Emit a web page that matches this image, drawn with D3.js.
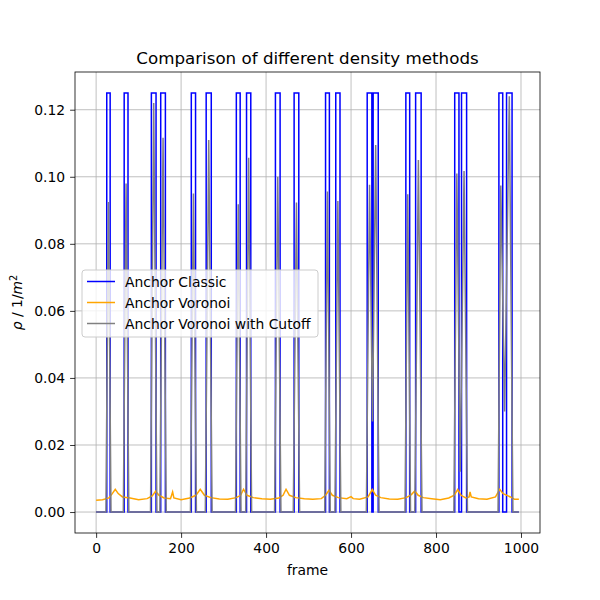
<!DOCTYPE html>
<html><head><meta charset="utf-8">
<script src="https://cdn.jsdelivr.net/npm/d3@7"></script>
<style>body{margin:0;background:#fff}text{font-family:"DejaVu Sans",sans-serif}</style>
</head><body><div id="chart"></div>
<script>
// pulse windows of the classic anchor (frames)
var pulseStart = [25, 66, 130, 152, 224, 259, 330, 354, 422, 466, 540, 564, 638, 652, 729, 752, 844, 860, 948, 966];
var pulseEnd   = [33, 75, 141, 163, 234, 271, 339, 364, 433, 477, 549, 574, 649, 664, 738, 765, 854, 872, 957, 979];
var classicLevel = 0.125;
// cutoff peaks per pulse
var cutoffPeak = [0.0925, 0.098, 0.122, 0.1116, 0.095, 0.111, 0.0918, 0.1057, 0.100, 0.0923,
                  0.0956, 0.0928, 0.0976, 0.1095, 0.0948, 0.105, 0.101, 0.1017, 0.0974, 0.124];
// voronoi density, [frame, value]
var voronoi = [[0,0.0035],[15,0.0037],[30,0.0042],[38,0.0055],[45,0.0068],[52,0.0055],[62,0.0045],[80,0.0042],[100,0.0037],[120,0.004],[132,0.0048],[140,0.0062],[148,0.005],[160,0.0042],[175,0.004],[180,0.006],[183,0.0042],[200,0.0037],[220,0.0042],[235,0.005],[245,0.0068],[255,0.005],[270,0.0043],[290,0.0039],[310,0.0038],[330,0.0043],[340,0.005],[347,0.0068],[355,0.005],[370,0.0043],[390,0.0040],[410,0.0038],[430,0.0042],[440,0.005],[447,0.0068],[455,0.005],[470,0.0043],[490,0.004],[510,0.0038],[530,0.004],[540,0.005],[548,0.0065],[556,0.005],[570,0.0043],[590,0.004],[600,0.0046],[605,0.004],[620,0.0038],[640,0.0045],[650,0.0067],[658,0.005],[670,0.0043],[690,0.0039],[710,0.0038],[730,0.0043],[742,0.0052],[750,0.0063],[758,0.005],[770,0.0043],[790,0.004],[810,0.0037],[830,0.0042],[843,0.005],[851,0.0067],[859,0.005],[870,0.0042],[878,0.0045],[880,0.006],[883,0.0045],[900,0.004],[920,0.0038],[940,0.0045],[950,0.0068],[958,0.0055],[975,0.0045],[985,0.0038],[995,0.0038]];

var W = 600, H = 600, m = {left: 75, right: 60, top: 72, bottom: 67};
var svg = d3.select("#chart").append("svg").attr("width", W).attr("height", H);
var x = d3.scaleLinear().domain([-49.75, 1044.75]).range([m.left, W - m.right]);
var y = d3.scaleLinear().domain([-0.00625, 0.13125]).range([H - m.bottom, m.top]);

// grid
svg.append("g").selectAll("line").data(x.ticks(5)).enter().append("line")
  .attr("x1", d => x(d)).attr("x2", d => x(d)).attr("y1", m.top).attr("y2", H - m.bottom)
  .attr("stroke", "#b0b0b0").attr("stroke-width", 0.8);
var yTicks = d3.range(0, 0.1201, 0.02);
svg.append("g").selectAll("line").data(yTicks).enter().append("line")
  .attr("x1", m.left).attr("x2", W - m.right).attr("y1", d => y(d)).attr("y2", d => y(d))
  .attr("stroke", "#b0b0b0").attr("stroke-width", 0.8);

// build series
var classic = [[0, 0]];
var cutoff = [[0, 0]];
pulseStart.forEach(function(s, i){
  var e = pulseEnd[i];
  classic.push([s, 0], [s, classicLevel], [e, classicLevel], [e, 0]);
  var next = pulseStart[i + 1], prevEnd = pulseEnd[i - 1];
  if (!(prevEnd && s - prevEnd < 10)) cutoff.push([s - 2, 0]);
  cutoff.push([(s + e) / 2, cutoffPeak[i]]);
  if (next && next - e < 10) cutoff.push([(e + next) / 2, i == 12 ? 0.027 : (i == 16 ? 0.012 : 0.03)]);
  else cutoff.push([e + 2, 0]);
});
classic.push([995, 0]);
cutoff.push([995, 0]);

var line = d3.line().x(d => x(d[0])).y(d => y(d[1]));
var g = svg.append("g");
g.append("path").datum(classic).attr("d", line).attr("fill", "none").attr("stroke", "blue").attr("stroke-width", 1.5);
g.append("path").datum(voronoi).attr("d", line).attr("fill", "none").attr("stroke", "orange").attr("stroke-width", 1.5);
g.append("path").datum(cutoff).attr("d", line).attr("fill", "none").attr("stroke", "gray").attr("stroke-width", 1.5);

// axes
var xa = svg.append("g").attr("transform", "translate(0," + (H - m.bottom) + ")")
  .call(d3.axisBottom(x).ticks(5).tickFormat(d3.format("d")).tickSizeOuter(0).tickSize(4.9).tickPadding(4.9));
var ya = svg.append("g").attr("transform", "translate(" + m.left + ",0)")
  .call(d3.axisLeft(y).tickValues(yTicks).tickFormat(d3.format(".2f")).tickSizeOuter(0).tickSize(4.9).tickPadding(4.9));
[xa, ya].forEach(a => { a.select(".domain").remove(); a.selectAll("text").attr("font-size", 13.9).attr("fill", "#000"); a.selectAll("line").attr("stroke-width", 0.8); });
svg.append("rect").attr("x", m.left).attr("y", m.top).attr("width", W - m.left - m.right)
  .attr("height", H - m.top - m.bottom).attr("fill", "none").attr("stroke", "#000").attr("stroke-width", 0.8);

svg.append("text").attr("x", (m.left + W - m.right) / 2).attr("y", 64).attr("text-anchor", "middle").attr("font-size", 16.7).text("Comparison of different density methods");
svg.append("text").attr("x", (m.left + W - m.right) / 2).attr("y", 575).attr("text-anchor", "middle").attr("font-size", 13.9).text("frame");
var yl = svg.append("text").attr("transform", "translate(22," + ((m.top + H - m.bottom) / 2) + ") rotate(-90)").attr("text-anchor", "middle").attr("font-size", 13.9);
yl.append("tspan").attr("font-style", "italic").text("ρ");
yl.append("tspan").text(" / 1/");
yl.append("tspan").attr("font-style", "italic").text("m");
yl.append("tspan").attr("font-size", 9.7).attr("dy", -5).text("2");

// legend
var legNames = ["Anchor Classic", "Anchor Voronoi", "Anchor Voronoi with Cutoff"];
var legColors = ["blue", "orange", "gray"];
var leg = svg.append("g").attr("transform", "translate(82,270)");
leg.append("rect").attr("width", 236).attr("height", 67).attr("rx", 3).attr("fill", "#fff").attr("fill-opacity", 0.8).attr("stroke", "#ccc");
legNames.forEach(function(n, i){
  var yy = 11.5 + i * 21;
  leg.append("line").attr("x1", 5).attr("x2", 33).attr("y1", yy).attr("y2", yy).attr("stroke", legColors[i]).attr("stroke-width", 1.5);
  leg.append("text").attr("x", 43).attr("y", yy + 5).attr("font-size", 13.9).text(n);
});
</script></body></html>
